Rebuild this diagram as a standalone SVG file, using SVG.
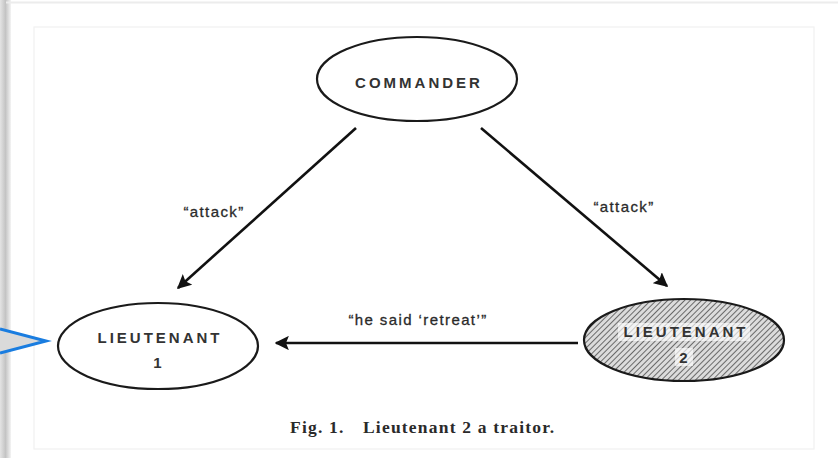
<svg xmlns="http://www.w3.org/2000/svg" width="838" height="458" viewBox="0 0 838 458">
  <defs>
    <style>
      .node { fill: #fff; stroke: #1a1a1a; stroke-width: 2.2; }
      .lbl { font-family: "Liberation Sans", Arial, sans-serif; font-size: 15px; font-weight: bold; fill: #333; text-anchor: middle; letter-spacing: 3px; }
      .edge { stroke: #111; stroke-width: 2.6; fill: none; }
      .elbl { font-family: "Liberation Sans", Arial, sans-serif; font-size: 15px; fill: #2a2a2a; text-anchor: middle; letter-spacing: 1.4px; stroke: #2a2a2a; stroke-width: 0.3px; }
      .cap { font-family: "Liberation Serif", "Times New Roman", serif; font-size: 17.5px; font-weight: bold; fill: #2a2a2a; letter-spacing: 1.2px; }
    </style>
    <marker id="arrow" viewBox="0 0 10 10" refX="9" refY="5" markerWidth="5.5" markerHeight="5.5" orient="auto" markerUnits="strokeWidth">
      <path d="M0,0 L10,5 L0,10 L2,5 Z" fill="#111"/>
    </marker>
    <pattern id="hatch" patternUnits="userSpaceOnUse" width="4" height="4" patternTransform="rotate(45)">
      <rect width="4" height="4" fill="#dcdcdc"/>
      <line x1="0" y1="0" x2="0" y2="4" stroke="#444" stroke-width="1.5"/>
    </pattern>
    <linearGradient id="bar" x1="0" y1="0" x2="1" y2="0">
      <stop offset="0" stop-color="#e4e4e4"/>
      <stop offset="0.5" stop-color="#c4c4c4"/>
      <stop offset="1" stop-color="#f4f4f4"/>
    </linearGradient>
  </defs>

  <!-- page background and frames -->
  <rect x="0" y="0" width="838" height="458" fill="#fff"/>
  <rect x="0" y="0" width="11" height="458" fill="url(#bar)"/>
  <line x1="6" y1="2.5" x2="838" y2="2.5" stroke="#ececec" stroke-width="2"/>
  <rect x="34" y="27" width="780" height="422" fill="none" stroke="#f1f1f1" stroke-width="1.2"/>

  <!-- pointer on the left margin -->
  <g id="pointer">
    <polygon points="0,329 46,341 0,353" fill="#dadada"/>
    <polyline points="0,329 46,341 0,353" fill="none" stroke="#1a7de0" stroke-width="3" stroke-linejoin="miter"/>
  </g>

  <!-- connectors -->
  <g id="connectors">
    <line class="edge" x1="356" y1="128" x2="178" y2="288" marker-end="url(#arrow)"/>
    <line class="edge" x1="481" y1="128" x2="667" y2="286" marker-end="url(#arrow)"/>
    <line class="edge" x1="578" y1="343" x2="276" y2="343" stroke-width="3" marker-end="url(#arrow)"/>
    <text class="elbl" x="214" y="217">“attack”</text>
    <text class="elbl" x="624" y="212">“attack”</text>
    <text class="elbl" x="418" y="325">“he said ‘retreat’”</text>
  </g>

  <!-- nodes -->
  <g id="commander">
    <ellipse class="node" cx="417" cy="79" rx="100" ry="42"/>
    <text class="lbl" x="419" y="88">COMMANDER</text>
  </g>

  <g id="lieutenant1">
    <ellipse class="node" cx="158" cy="346" rx="100" ry="43"/>
    <text class="lbl" x="160" y="343">LIEUTENANT</text>
    <text class="lbl" x="159" y="368">1</text>
  </g>

  <g id="lieutenant2">
    <ellipse class="node" cx="684" cy="340" rx="100" ry="41" style="fill:url(#hatch)"/>
    <rect x="618" y="323" width="132" height="18" fill="#fff" opacity="0.65"/>
    <rect x="675" y="348" width="18" height="18" fill="#fff" opacity="0.65"/>
    <text class="lbl" x="686" y="337">LIEUTENANT</text>
    <text class="lbl" x="685" y="363">2</text>
  </g>

  <!-- caption -->
  <text class="cap" x="290" y="433">Fig. 1.</text>
  <text class="cap" x="363" y="433">Lieutenant 2 a traitor.</text>
</svg>
